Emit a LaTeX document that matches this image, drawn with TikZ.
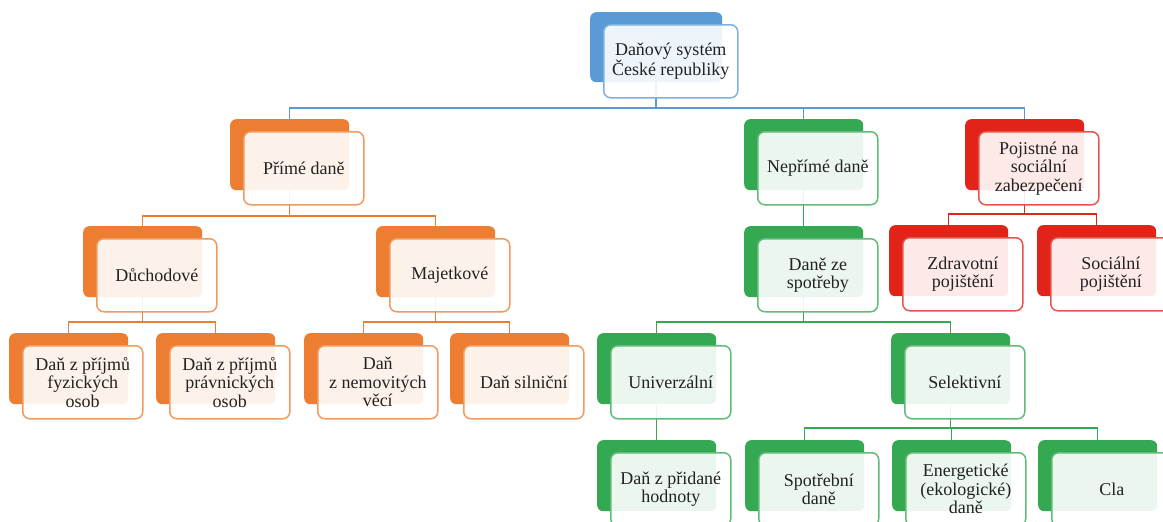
\documentclass[tikz,border=0pt]{standalone}
\usepackage{fontspec}
\setmainfont{Liberation Serif}
\usetikzlibrary{backgrounds}
\definecolor{cblue}{HTML}{5B9BD5}
\definecolor{corange}{HTML}{ED7D31}
\definecolor{cgreen}{HTML}{35A852}
\definecolor{cred}{HTML}{E2231A}
\definecolor{ctext}{HTML}{222222}
\tikzset{
  backbox/.style={fill=#1, rounded corners=6pt, minimum width=119pt, minimum height=71pt,
    anchor=north west, inner sep=0pt, draw=none},
  frontbox/.style={draw=#1!78!white, line width=1.5pt, fill=white, fill opacity=0.9,
    text opacity=1, rounded corners=7pt, minimum width=120pt, minimum height=73pt,
    anchor=north west, align=center, inner sep=2pt, text=ctext,
    font=\fontsize{18}{18.5}\selectfont},
  conn/.style={draw=#1, line width=1.5pt}
}
\newcommand\tbox[5]{%
  \node[backbox=#4] (#1b) at (#2,#3) {};
  \node[frontbox=#4] (#1) at ({#2+13},{#3+12}) {#5};}
\begin{document}
\begin{tikzpicture}[x=1pt,y=-1pt]
\useasboundingbox (0,0) rectangle (1163,522);
% top
\node[backbox=cblue, minimum width=132pt, minimum height=70pt] (topb) at (590,12) {};
\node[frontbox=cblue, minimum width=134pt] (top) at (603,24) {Daňový systém\\České republiky};
% level 1
\tbox{pd}{230}{119}{corange}{Přímé daně}
\tbox{nd}{744}{119}{cgreen}{Nepřímé daně}
\tbox{poj}{965}{119}{cred}{Pojistné na\\sociální\\zabezpečení}
% level 2
\tbox{duch}{83}{226}{corange}{Důchodové}
\tbox{maj}{376}{226}{corange}{Majetkové}
\tbox{spot}{744}{226}{cgreen}{Daně ze\\spotřeby}
\tbox{zdr}{889}{225}{cred}{Zdravotní\\pojištění}
\tbox{soc}{1037}{225}{cred}{Sociální\\pojištění}
% level 3
\tbox{fyz}{9}{333}{corange}{Daň z příjmů\\fyzických\\osob}
\tbox{prav}{156}{333}{corange}{Daň z příjmů\\právnických\\osob}
\tbox{nem}{304}{333}{corange}{Daň\\z nemovitých\\věcí}
\tbox{siln}{450}{333}{corange}{Daň silniční}
\tbox{univ}{597}{333}{cgreen}{Univerzální}
\tbox{sel}{891}{333}{cgreen}{Selektivní}
% level 4
\tbox{dph}{597}{440}{cgreen}{Daň z přidané\\hodnoty}
\tbox{spd}{745}{440}{cgreen}{Spotřební\\daně}
\tbox{ene}{892}{440}{cgreen}{Energetické\\(ekologické)\\daně}
\tbox{cla}{1038}{440}{cgreen}{Cla}
% connectors
\begin{scope}[on background layer]
\fill[white] (0,0) rectangle (1163,522);
\foreach \c in {pd,nd,poj}
  \draw[conn=cblue] (topb.south) |- ([yshift=11pt]\c b.north) -- (\c b.north);
\foreach \c in {duch,maj}
  \draw[conn=corange] (pdb.south) |- ([yshift=10pt]\c b.north) -- (\c b.north);
\draw[conn=cgreen] (ndb.south) -- (spotb.north);
\foreach \c in {zdr,soc}
  \draw[conn=cred] (pojb.south) |- ([yshift=11pt]\c b.north) -- (\c b.north);
\foreach \c in {fyz,prav}
  \draw[conn=corange] (duchb.south) |- ([yshift=11pt]\c b.north) -- (\c b.north);
\foreach \c in {nem,siln}
  \draw[conn=corange] (majb.south) |- ([yshift=11pt]\c b.north) -- (\c b.north);
\foreach \c in {univ,sel}
  \draw[conn=cgreen] (spotb.south) |- ([yshift=11pt]\c b.north) -- (\c b.north);
\draw[conn=cgreen] (univb.south) -- (dphb.north);
\foreach \c in {spd,ene,cla}
  \draw[conn=cgreen] (selb.south) |- ([yshift=12pt]\c b.north) -- (\c b.north);
\end{scope}
\end{tikzpicture}
\end{document}
